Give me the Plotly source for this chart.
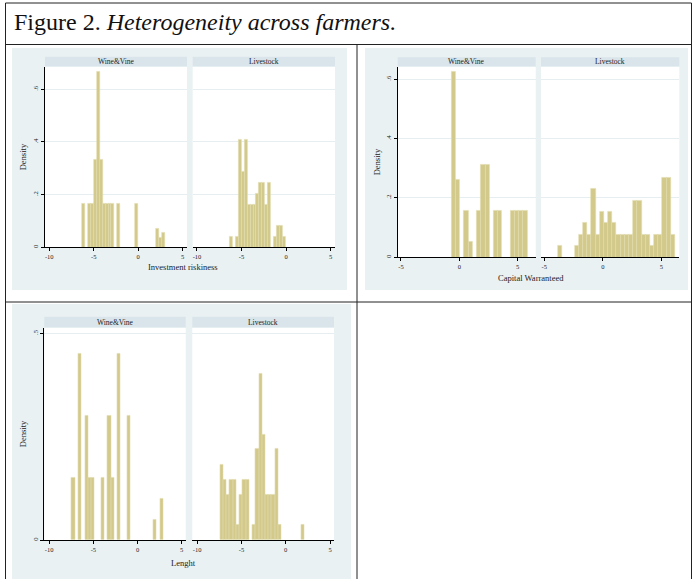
import plotly.graph_objects as go

# ---------------- data (histogram densities) ----------------
groups = ["Wine&Vine", "Livestock"]
variables = ["Investment riskiness", "Capital Warranteed", "Lenght"]

# Investment riskiness
inv_wine_start, inv_wine_width = -6.34, 1 / 3
inv_wine_density = [0.167, 0, 0.167, 0.167, 0.333, 0.667, 0.333, 0.167, 0.167, 0.167,
                    0.167, 0, 0.167, 0, 0, 0, 0, 0, 0.167, 0,
                    0, 0, 0, 0, 0, 0.07, 0.036, 0.055]
inv_live_start, inv_live_width = -6.36, 1 / 3
inv_live_density = [0.041, 0, 0.041, 0.408, 0.286, 0.408, 0.163, 0.163, 0.163, 0.204,
                    0.245, 0.245, 0.163, 0.245, 0, 0.041, 0.082, 0.082, 0.041]

# Capital Warranteed
cap_wine_start, cap_wine_width = -0.665, 0.36
cap_wine_density = [0.625, 0.26, 0, 0.156, 0.052, 0, 0.156, 0.313, 0.313, 0,
                    0.156, 0.156, 0, 0, 0.156, 0.156, 0.156, 0.156]
cap_live_start, cap_live_width = -3.83, 0.357
cap_live_density = [0.038, 0, 0, 0, 0.038, 0.077, 0.115, 0.077, 0.230, 0.077,
                    0.153, 0.115, 0.153, 0.115, 0.077, 0.077, 0.077, 0.077, 0.192, 0.192,
                    0.077, 0.077, 0.038, 0.077, 0.077, 0.268, 0.268, 0.077]

# Lenght
len_wine_start, len_wine_width = -7.44, 0.369
len_wine_density = [0.15, 0, 0.45, 0, 0.30, 0.15, 0.15, 0, 0, 0.15,
                    0, 0.30, 0.15, 0, 0.45, 0, 0, 0.30, 0, 0,
                    0, 0, 0, 0, 0, 0.05, 0, 0.10]
len_live_start, len_live_width = -7.43, 0.366
len_live_density = [0.183, 0.147, 0.110, 0.147, 0.147, 0.037, 0.110, 0.147, 0.147, 0,
                    0.037, 0.220, 0.403, 0.256, 0.110, 0.110, 0.110, 0.220, 0.037, 0,
                    0, 0, 0, 0, 0, 0.037]

# axis ticks
x_ticks_wide = [-10, -5, 0, 5]
x_ticks_cap = [-5, 0, 5]
y_ticks_a = [0, 0.2, 0.4, 0.6]
y_ticklabels_a = ["0", ".2", ".4", ".6"]
y_ticks_b = [0, 0.5]
y_ticklabels_b = ["0", ".5"]

title_plain = "Figure 2. "
title_italic = "Heterogeneity across farmers."

# ---------------- layout geometry (pixels) ----------------
W, H = 696, 579
FONT = "Liberation Serif"
BAR = "#D2C98A"
BAR_EDGE = "#E2DCAE"
BG = "#EAF1F3"
STRIP = "#D9E5EB"
GRID = "#E6EEF1"


def px(x):
    return x / W


def py(y):
    return 1 - y / H


panels = [
    dict(series=[(inv_wine_start, inv_wine_width, inv_wine_density),
                 (inv_live_start, inv_live_width, inv_live_density)],
         xs=[(45, 187), (192.7, 335)], yplot=(66.7, 247.3), strip=(56.7, 66.7),
         xrange=[-10.48, 5.48], yrange=[0, 0.686], xt=x_ticks_wide,
         yt=y_ticks_a, ytl=y_ticklabels_a, bg=(12, 347, 48, 290),
         dens_x=23.3, xt_y=267.3, xtitle=variables[0], xtitle_x=183.5),
    dict(series=[(cap_wine_start, cap_wine_width, cap_wine_density),
                 (cap_live_start, cap_live_width, cap_live_density)],
         xs=[(397.7, 535.7), (541, 679.3)], yplot=(66.7, 257.3), strip=(57.3, 66.7),
         xrange=[-5.28, 6.54], yrange=[0, 0.642], xt=x_ticks_cap,
         yt=y_ticks_a, ytl=y_ticklabels_a, bg=(365, 688, 48, 290),
         dens_x=377.3, xt_y=277.7, xtitle=variables[1], xtitle_x=531),
    dict(series=[(len_wine_start, len_wine_width, len_wine_density),
                 (len_live_start, len_live_width, len_live_density)],
         xs=[(44.3, 185.7), (192.3, 334)], yplot=(327.7, 540), strip=(316.7, 327.7),
         xrange=[-10.55, 5.45], yrange=[0, 0.514], xt=x_ticks_wide,
         yt=y_ticks_b, ytl=y_ticklabels_b, bg=(12, 351, 304, 579),
         dens_x=23.3, xt_y=562.7, xtitle=variables[2], xtitle_x=183),
]

fig = go.Figure()
shapes = []
annotations = []
layout_axes = {}

# table borders
line_style = dict(color="#222222", width=1)
shapes.append(dict(type="line", xref="paper", yref="paper", x0=px(5.5), x1=px(5.5), y0=py(3), y1=py(579), line=line_style))
shapes.append(dict(type="line", xref="paper", yref="paper", x0=px(691.5), x1=px(691.5), y0=py(3), y1=py(579), line=line_style))
shapes.append(dict(type="line", xref="paper", yref="paper", x0=px(5.5), x1=px(691.5), y0=py(3), y1=py(3), line=line_style))
shapes.append(dict(type="line", xref="paper", yref="paper", x0=px(5.5), x1=px(691.5), y0=py(44.5), y1=py(44.5), line=line_style))
shapes.append(dict(type="line", xref="paper", yref="paper", x0=px(5.5), x1=px(691.5), y0=py(302), y1=py(302), line=line_style))
shapes.append(dict(type="line", xref="paper", yref="paper", x0=px(357), x1=px(357), y0=py(44.5), y1=py(579), line=line_style))

annotations.append(dict(text=title_plain + "<i>" + title_italic + "</i>", xref="paper", yref="paper",
                        x=px(12), y=py(22), xanchor="left", yanchor="middle", showarrow=False,
                        font=dict(family=FONT, size=24, color="#111111")))

k = 0
for p in panels:
    bx0, bx1, by0, by1 = p["bg"]
    shapes.append(dict(type="rect", xref="paper", yref="paper", x0=px(bx0), x1=px(bx1),
                       y0=py(by1), y1=py(by0), fillcolor=BG, line=dict(width=0), layer="below"))
    for j, (start, width, dens) in enumerate(p["series"]):
        k += 1
        xa = "x" if k == 1 else f"x{k}"
        ya = "y" if k == 1 else f"y{k}"
        x0, x1 = p["xs"][j]
        # strip
        shapes.append(dict(type="rect", xref="paper", yref="paper", x0=px(x0), x1=px(x1),
                           y0=py(p["strip"][1]), y1=py(p["strip"][0]), fillcolor=STRIP,
                           line=dict(width=0), layer="below"))
        annotations.append(dict(text=groups[j], xref="paper", yref="paper",
                                x=px((x0 + x1) / 2), y=py((p["strip"][0] + p["strip"][1]) / 2),
                                xanchor="center", yanchor="middle", showarrow=False,
                                font=dict(family=FONT, size=7.5, color="#222222")))
        # white plot region
        shapes.append(dict(type="rect", xref="paper", yref="paper", x0=px(x0), x1=px(x1),
                           y0=py(p["yplot"][1]), y1=py(p["yplot"][0]), fillcolor="white",
                           line=dict(width=0), layer="below"))
        centers = [start + (i + 0.5) * width for i in range(len(dens)) if dens[i] > 0]
        heights = [d for d in dens if d > 0]
        fig.add_trace(go.Bar(x=centers, y=heights, width=width, xaxis=xa, yaxis=ya,
                             marker=dict(color=BAR, line=dict(color=BAR_EDGE, width=0.6)),
                             showlegend=False, hoverinfo="skip"))
        xkey = "xaxis" if k == 1 else f"xaxis{k}"
        ykey = "yaxis" if k == 1 else f"yaxis{k}"
        layout_axes[xkey] = dict(domain=[px(x0), px(x1)], range=p["xrange"], anchor=ya,
                                 tickvals=p["xt"], ticktext=[str(v) for v in p["xt"]],
                                 ticks="outside", ticklen=3, tickwidth=0.8, tickcolor="black",
                                 showline=True, linecolor="black", linewidth=1,
                                 showgrid=False, zeroline=False,
                                 tickfont=dict(family=FONT, size=6.5, color="#222222"))
        yax = dict(domain=[py(p["yplot"][1]), py(p["yplot"][0])], range=p["yrange"], anchor=xa,
                   tickvals=p["yt"], ticktext=p["ytl"], showgrid=True, gridcolor=GRID,
                   gridwidth=1, zeroline=False)
        if j == 0:
            yax.update(showline=True, linecolor="black", linewidth=1, ticks="outside",
                       ticklen=3, tickwidth=0.8, tickcolor="black", tickangle=-90,
                       tickfont=dict(family=FONT, size=6.5, color="#222222"))
        else:
            yax.update(showline=False, ticks="", showticklabels=False)
        layout_axes[ykey] = yax
    # axis titles
    ymid = (p["yplot"][0] + p["yplot"][1]) / 2
    annotations.append(dict(text="Density", xref="paper", yref="paper", x=px(p["dens_x"]), y=py(ymid),
                            textangle=-90, xanchor="center", yanchor="middle", showarrow=False,
                            font=dict(family=FONT, size=8.5, color="#222222")))
    annotations.append(dict(text=p["xtitle"], xref="paper", yref="paper", x=px(p["xtitle_x"]),
                            y=py(p["xt_y"]), xanchor="center", yanchor="middle", showarrow=False,
                            font=dict(family=FONT, size=8.5, color="#222222")))

fig.update_layout(width=W, height=H, margin=dict(l=0, r=0, t=0, b=0, pad=0),
                  paper_bgcolor="white", plot_bgcolor="white", bargap=0,
                  shapes=shapes, annotations=annotations, showlegend=False, **layout_axes)

fig.write_html("out.html", config={"displayModeBar": False},
               post_script="document.body.style.margin='0';document.body.style.overflow='hidden';")
